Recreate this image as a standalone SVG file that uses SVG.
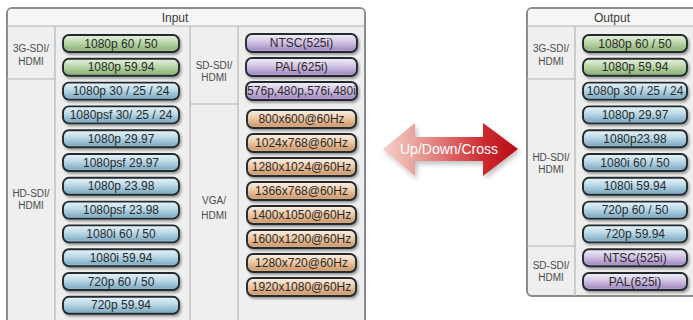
<svg xmlns="http://www.w3.org/2000/svg" width="693" height="320" viewBox="0 0 693 320">
<style>
.panel{fill:#efefef;stroke:#8c8c8c;stroke-width:2}
.hdr{fill:#f6f6f6}
.sep{stroke:#b4b4b4;stroke-width:1.2;fill:none}
.lbl{font-family:"Liberation Sans",Arial,sans-serif;font-size:10px;fill:#4a4a4a;text-anchor:middle}
.title{font-family:"Liberation Sans",Arial,sans-serif;font-size:12px;fill:#3a3a3a;text-anchor:middle}
.btn{stroke:#222c2e;stroke-width:1.9;filter:url(#sh)}
.bt{font-family:"Liberation Sans",Arial,sans-serif;font-size:12px;fill:#2a2a2a;text-anchor:middle}
.g{fill:url(#gG)}.b{fill:url(#gB)}.p{fill:url(#gP)}.o{fill:url(#gO)}
</style>
<defs>
<linearGradient id="gG" x1="0" y1="0" x2="0" y2="1"><stop offset="0" stop-color="#e8f2e0"/><stop offset="0.45" stop-color="#bcd6ac"/><stop offset="0.85" stop-color="#93b97e"/><stop offset="1" stop-color="#aacb98"/></linearGradient>
<linearGradient id="gB" x1="0" y1="0" x2="0" y2="1"><stop offset="0" stop-color="#e8f4fa"/><stop offset="0.45" stop-color="#b9d8e6"/><stop offset="0.85" stop-color="#86b0c6"/><stop offset="1" stop-color="#a2c6d8"/></linearGradient>
<linearGradient id="gP" x1="0" y1="0" x2="0" y2="1"><stop offset="0" stop-color="#f4f0f9"/><stop offset="0.45" stop-color="#d2c4e4"/><stop offset="0.85" stop-color="#a892c6"/><stop offset="1" stop-color="#bdabd7"/></linearGradient>
<linearGradient id="gO" x1="0" y1="0" x2="0" y2="1"><stop offset="0" stop-color="#fcf1e6"/><stop offset="0.45" stop-color="#eecaa8"/><stop offset="0.85" stop-color="#d29f74"/><stop offset="1" stop-color="#e1b58f"/></linearGradient>
<linearGradient id="gA" x1="0" y1="0" x2="1" y2="0"><stop offset="0" stop-color="#f6d2cc"/><stop offset="0.35" stop-color="#e58a86"/><stop offset="0.75" stop-color="#cc2a30"/><stop offset="1" stop-color="#b80c18"/></linearGradient>
<filter id="sh" x="-10%" y="-30%" width="125%" height="180%"><feDropShadow dx="1.5" dy="2" stdDeviation="1.2" flood-color="#000" flood-opacity="0.35"/></filter>
<filter id="ash" x="-10%" y="-20%" width="125%" height="150%"><feDropShadow dx="2" dy="3" stdDeviation="2.5" flood-color="#000" flood-opacity="0.25"/></filter>
</defs>

<!-- Input panel -->
<g id="input-panel">
<rect class="panel" x="7" y="8" width="358" height="330" rx="5"/>
<rect class="hdr" x="8" y="9" width="356" height="17" rx="4"/>
<line class="sep" x1="7" y1="26" x2="365" y2="26"/>
<line class="sep" x1="55" y1="26" x2="55" y2="320"/>
<line class="sep" x1="190" y1="26" x2="190" y2="320"/>
<line class="sep" x1="238" y1="26" x2="238" y2="320"/>
<line class="sep" x1="7" y1="79" x2="55" y2="79"/>
<line class="sep" x1="190" y1="104" x2="238" y2="104"/>
<text class="title" x="175" y="22">Input</text>
<text class="lbl" x="31" y="52">3G-SDI/</text><text class="lbl" x="31" y="65">HDMI</text>
<text class="lbl" x="31" y="197">HD-SDI/</text><text class="lbl" x="31" y="209">HDMI</text>
<text class="lbl" x="214" y="69">SD-SDI/</text><text class="lbl" x="214" y="81">HDMI</text>
<text class="lbl" x="214" y="204">VGA/</text><text class="lbl" x="214" y="219">HDMI</text>
</g>

<!-- Output panel -->
<g id="output-panel">
<rect class="panel" x="527" y="8" width="172" height="288" rx="5"/>
<rect class="hdr" x="528" y="9" width="170" height="17" rx="4"/>
<line class="sep" x1="527" y1="26" x2="699" y2="26"/>
<line class="sep" x1="575" y1="26" x2="575" y2="296"/>
<line class="sep" x1="527" y1="79" x2="575" y2="79"/>
<line class="sep" x1="527" y1="246" x2="575" y2="246"/>
<text class="title" x="612" y="22">Output</text>
<text class="lbl" x="551" y="52">3G-SDI/</text><text class="lbl" x="551" y="65">HDMI</text>
<text class="lbl" x="551" y="161">HD-SDI/</text><text class="lbl" x="551" y="173">HDMI</text>
<text class="lbl" x="551" y="269">SD-SDI/</text><text class="lbl" x="551" y="281">HDMI</text>
</g>

<!-- Input left column -->
<g id="in-1080p6050"><rect class="btn g" x="63" y="35" width="116" height="17" rx="6"/><text class="bt" x="121" y="47.5">1080p 60 / 50</text></g>
<g id="in-1080p5994"><rect class="btn g" x="63" y="58.8" width="116" height="17" rx="6"/><text class="bt" x="121" y="71.3">1080p 59.94</text></g>
<g id="in-1080p302524"><rect class="btn b" x="63" y="82.6" width="116" height="17" rx="6"/><text class="bt" x="121" y="95.1">1080p 30 / 25 / 24</text></g>
<g id="in-1080psf302524"><rect class="btn b" x="63" y="106.4" width="116" height="17" rx="6"/><text class="bt" x="121" y="118.9">1080psf 30/ 25 / 24</text></g>
<g id="in-1080p2997"><rect class="btn b" x="63" y="130.2" width="116" height="17" rx="6"/><text class="bt" x="121" y="142.7">1080p 29.97</text></g>
<g id="in-1080psf2997"><rect class="btn b" x="63" y="154" width="116" height="17" rx="6"/><text class="bt" x="121" y="166.5">1080psf 29.97</text></g>
<g id="in-1080p2398"><rect class="btn b" x="63" y="177.8" width="116" height="17" rx="6"/><text class="bt" x="121" y="190.3">1080p 23.98</text></g>
<g id="in-1080psf2398"><rect class="btn b" x="63" y="201.6" width="116" height="17" rx="6"/><text class="bt" x="121" y="214.1">1080psf 23.98</text></g>
<g id="in-1080i6050"><rect class="btn b" x="63" y="225.4" width="116" height="17" rx="6"/><text class="bt" x="121" y="237.9">1080i 60 / 50</text></g>
<g id="in-1080i5994"><rect class="btn b" x="63" y="249.2" width="116" height="17" rx="6"/><text class="bt" x="121" y="261.7">1080i 59.94</text></g>
<g id="in-720p6050"><rect class="btn b" x="63" y="273" width="116" height="17" rx="6"/><text class="bt" x="121" y="285.5">720p 60 / 50</text></g>
<g id="in-720p5994"><rect class="btn b" x="63" y="296.8" width="116" height="17" rx="6"/><text class="bt" x="121" y="309.3">720p 59.94</text></g>

<!-- Input right column -->
<g id="in-ntsc"><rect class="btn p" x="246" y="34" width="111" height="18" rx="6"/><text class="bt" x="301.5" y="47">NTSC(525i)</text></g>
<g id="in-pal"><rect class="btn p" x="246" y="58" width="111" height="18" rx="6"/><text class="bt" x="301.5" y="71">PAL(625i)</text></g>
<g id="in-576p"><rect class="btn p" x="246" y="82" width="111" height="18" rx="6"/><text class="bt" x="301.5" y="95">576p,480p,576i,480i</text></g>
<g id="in-800x600"><rect class="btn o" x="247" y="110" width="109" height="18" rx="6"/><text class="bt" x="301.5" y="123">800x600@60Hz</text></g>
<g id="in-1024x768"><rect class="btn o" x="247" y="134" width="109" height="18" rx="6"/><text class="bt" x="301.5" y="147">1024x768@60Hz</text></g>
<g id="in-1280x1024"><rect class="btn o" x="247" y="158" width="109" height="18" rx="6"/><text class="bt" x="301.5" y="171">1280x1024@60Hz</text></g>
<g id="in-1366x768"><rect class="btn o" x="247" y="182" width="109" height="18" rx="6"/><text class="bt" x="301.5" y="195">1366x768@60Hz</text></g>
<g id="in-1400x1050"><rect class="btn o" x="247" y="206" width="109" height="18" rx="6"/><text class="bt" x="301.5" y="219">1400x1050@60Hz</text></g>
<g id="in-1600x1200"><rect class="btn o" x="247" y="230" width="109" height="18" rx="6"/><text class="bt" x="301.5" y="243">1600x1200@60Hz</text></g>
<g id="in-1280x720"><rect class="btn o" x="247" y="254" width="109" height="18" rx="6"/><text class="bt" x="301.5" y="267">1280x720@60Hz</text></g>
<g id="in-1920x1080"><rect class="btn o" x="247" y="278" width="109" height="18" rx="6"/><text class="bt" x="301.5" y="291">1920x1080@60Hz</text></g>

<!-- Output column -->
<g id="out-1080p6050"><rect class="btn g" x="583" y="35" width="104" height="17" rx="6"/><text class="bt" x="635" y="47.5">1080p 60 / 50</text></g>
<g id="out-1080p5994"><rect class="btn g" x="583" y="58.8" width="104" height="17" rx="6"/><text class="bt" x="635" y="71.3">1080p 59.94</text></g>
<g id="out-1080p302524"><rect class="btn b" x="583" y="82.6" width="104" height="17" rx="6"/><text class="bt" x="635" y="95.1">1080p 30 / 25 / 24</text></g>
<g id="out-1080p2997"><rect class="btn b" x="583" y="106.4" width="104" height="17" rx="6"/><text class="bt" x="635" y="118.9">1080p 29.97</text></g>
<g id="out-1080p2398"><rect class="btn b" x="583" y="130.2" width="104" height="17" rx="6"/><text class="bt" x="635" y="142.7">1080p23.98</text></g>
<g id="out-1080i6050"><rect class="btn b" x="583" y="154" width="104" height="17" rx="6"/><text class="bt" x="635" y="166.5">1080i 60 / 50</text></g>
<g id="out-1080i5994"><rect class="btn b" x="583" y="177.8" width="104" height="17" rx="6"/><text class="bt" x="635" y="190.3">1080i 59.94</text></g>
<g id="out-720p6050"><rect class="btn b" x="583" y="201.6" width="104" height="17" rx="6"/><text class="bt" x="635" y="214.1">720p 60 / 50</text></g>
<g id="out-720p5994"><rect class="btn b" x="583" y="225.4" width="104" height="17" rx="6"/><text class="bt" x="635" y="237.9">720p 59.94</text></g>
<g id="out-ntsc"><rect class="btn p" x="583" y="249.2" width="104" height="17" rx="6"/><text class="bt" x="635" y="261.7">NTSC(525i)</text></g>
<g id="out-pal"><rect class="btn p" x="583" y="273" width="104" height="17" rx="6"/><text class="bt" x="635" y="285.5">PAL(625i)</text></g>

<!-- Connector: Up/Down/Cross double arrow -->
<g id="connectors">
<polygon filter="url(#ash)" fill="url(#gA)" points="383,149 415,123 415,137 483,137 483,123 518,149 483,176 483,161 415,161 415,176"/>
<text x="449" y="154" font-family="'Liberation Sans',Arial,sans-serif" font-size="14" fill="#ffffff" text-anchor="middle">Up/Down/Cross</text>
</g>
</svg>
